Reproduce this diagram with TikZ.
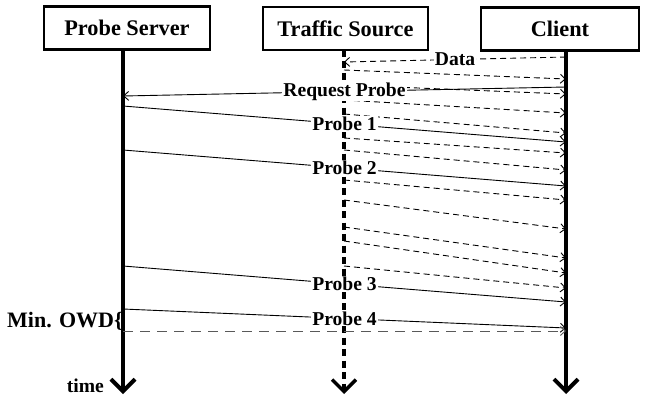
\documentclass[tikz,border=0pt]{standalone}
\usepackage{fontspec}
\setmainfont{Liberation Serif}
\usetikzlibrary{arrows.meta}

\begin{document}
\begin{tikzpicture}[x=1pt,y=-1pt,
  actor/.style={draw,line width=2.5pt,minimum height=43pt,inner sep=0pt,font=\fontsize{22.3}{26}\selectfont\bfseries},
  life/.style={line width=4pt,-{Straight Barb[length=12pt,width=24pt]}},
  msg/.style={line width=0.9pt,-{Straight Barb[length=5pt,width=9pt]}},
  data/.style={msg,dash pattern=on 6pt off 4pt},
  lbl/.style={fill=white,inner sep=1pt,font=\fontsize{19.6}{22}\selectfont\bfseries}]
\useasboundingbox (0,0) rectangle (645,396);
%%%% boxes
\node[actor,minimum width=166pt] (server) at (127,28) {Probe Server};
\node[actor,minimum width=165pt] (traffic) at (345.5,28.5) {Traffic Source};
\node[actor,minimum width=158pt] (client) at (560,29) {Client};
%
\coordinate (ss) at (123,50);
\coordinate (ts) at (344,50);
\coordinate (cs) at (566,50);
\coordinate (se) at (123,394);
\coordinate (te) at (344,394);
\coordinate (ce) at (566,394);
\draw[life] (ss)--(se);
\draw[life,line width=3.5pt,dash pattern=on 7pt off 4.5pt] (ts)--(te);
\draw[life] (cs)--(ce);
%%%% traffic
\draw[data] (cs |- 0,57) -- node[lbl]{Data} (ts |- 0,62);
\foreach \a/\b in {70/79,85/94,100/113,114/133,138/153,150/170,180/200,200/229,227/258,241/273,266/288}
  \draw[data] (ts |- 0,\a)--(cs |- 0,\b);
%%%% probes
\draw[msg] (cs |- 0,87) -- node[lbl]{Request Probe} (ss |- 0,96);
\draw[msg] (ss |- 0,106) -- node[lbl]{Probe 1} (cs |- 0,142);
\draw[msg] (ss |- 0,150) -- node[lbl]{Probe 2} (cs |- 0,186);
\draw[msg] (ss |- 0,266) -- node[lbl]{Probe 3} (cs |- 0,302);
\draw[msg] (ss |- 0,309) -- node[lbl]{Probe 4} (cs |- 0,328);
\draw[msg,gray!70!black,dash pattern=on 10pt off 7pt] (ss |- 0,331)--(cs |- 0,331);
%
\node[anchor=east,inner sep=0pt,font=\fontsize{22}{26}\selectfont\bfseries] (owd) at (123,321) {Min. OWD\{};
\node[anchor=east,inner sep=0pt,font=\fontsize{19.6}{22}\selectfont\bfseries] (time) at (104,386) {time};
\end{tikzpicture}
\end{document}
